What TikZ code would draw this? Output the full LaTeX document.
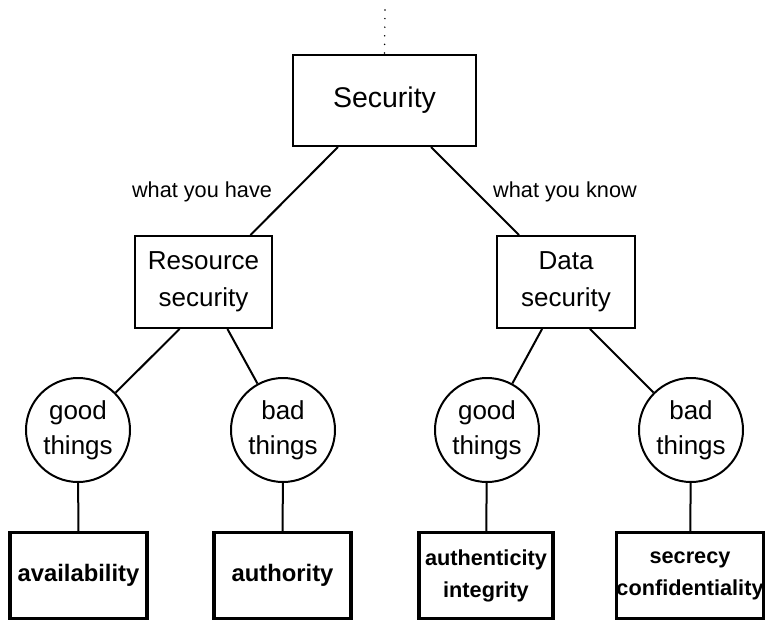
\documentclass[tikz,border=0pt]{standalone}
\usepackage{fontspec}
\setmainfont{Liberation Sans}
\begin{document}
\begin{tikzpicture}[x=1pt,y=-1pt,
  box/.style={draw,line width=2pt,inner sep=0pt,align=center,minimum height=92pt,font=\fontsize{26}{37}\selectfont},
  thing/.style={draw,circle,line width=2pt,inner sep=0pt,minimum size=104pt,align=center,font=\fontsize{26}{35}\selectfont},
  leaf/.style={draw,line width=3.2pt,inner sep=0pt,align=center,minimum height=86pt,font=\bfseries\fontsize{23.8}{30}\selectfont},
  leafsmall/.style={leaf,font=\bfseries\fontsize{21.7}{32}\selectfont},
  lbl/.style={anchor=base,inner sep=0pt,font=\fontsize{21.7}{26}\selectfont},
  conn/.style={line width=2pt}]
\useasboundingbox (0,0) rectangle (766,622);
\node[box,minimum width=183pt,minimum height=91pt,font=\fontsize{28.5}{34}\selectfont] (sec) at (384.5,100.5) {Security};
\coordinate (top) at (385,10);
\draw[line width=1.6pt,line cap=round,dash pattern=on 0pt off 8.6pt] (top) -- (sec.north);
\node[box,minimum width=137pt] (res) at (203.5,282) {Resource\\security};
\node[box,minimum width=138pt] (dat) at (566,282) {Data\\security};
\node[thing] (g1) at (78,430) {good\\things};
\node[thing] (b1) at (283,430) {bad\\things};
\node[thing] (g2) at (487,430) {good\\things};
\node[thing] (b2) at (691,430) {bad\\things};
\node[leaf,minimum width=137pt] (l1) at (78.5,575.5) {availability};
\node[leaf,minimum width=137pt] (l2) at (282.5,575.5) {authority};
\node[leafsmall,minimum width=134pt] (l3) at (486,575.5) {authenticity\\integrity};
\node[leafsmall,minimum width=144pt] (l4) at (690,575.5) {secrecy\\confidentiality};
\draw[conn] (sec.-135) -- (res.45);
\draw[conn] (sec.-45) -- (dat.135);
\draw[conn] (res.-117) -- (g1);
\draw[conn] (res.-63) -- (b1);
\draw[conn] (dat.-117) -- (g2);
\draw[conn] (dat.-63) -- (b2);
\draw[conn] (g1) -- (l1);
\draw[conn] (b1) -- (l2);
\draw[conn] (g2) -- (l3);
\draw[conn] (b2) -- (l4);
\node[lbl] (whave) at (202,197) {what you have};
\node[lbl] (wknow) at (565,197) {what you know};
\end{tikzpicture}
\end{document}
